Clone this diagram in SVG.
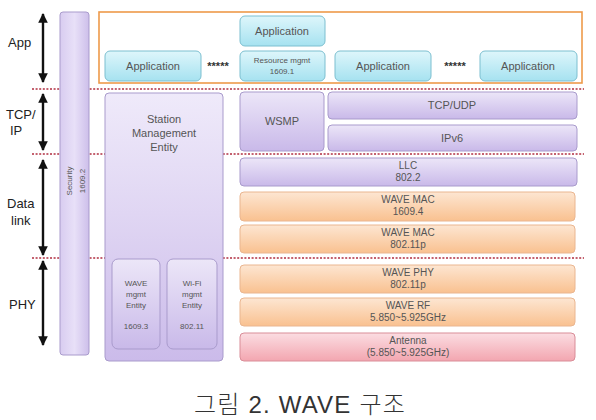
<svg xmlns="http://www.w3.org/2000/svg" width="596" height="420" viewBox="0 0 596 420">
  <defs>
    <linearGradient id="gPurple" x1="0" y1="0" x2="0" y2="1">
      <stop offset="0" stop-color="#ece6f8"/>
      <stop offset="1" stop-color="#c9b9e9"/>
    </linearGradient>
    <linearGradient id="gPurpleTall" x1="0" y1="0" x2="0" y2="1">
      <stop offset="0" stop-color="#efeafa"/>
      <stop offset="0.45" stop-color="#e0d6f3"/>
      <stop offset="1" stop-color="#cbbbea"/>
    </linearGradient>
    <linearGradient id="gSec" x1="0" y1="0" x2="1" y2="0">
      <stop offset="0" stop-color="#d8ccf0"/>
      <stop offset="0.5" stop-color="#e8e0f8"/>
      <stop offset="1" stop-color="#cdbfea"/>
    </linearGradient>
    <linearGradient id="gCyan" x1="0" y1="0" x2="0" y2="1">
      <stop offset="0" stop-color="#def6fb"/>
      <stop offset="1" stop-color="#a6e2f0"/>
    </linearGradient>
    <linearGradient id="gOrange" x1="0" y1="0" x2="0" y2="1">
      <stop offset="0" stop-color="#fde6d2"/>
      <stop offset="1" stop-color="#f9c190"/>
    </linearGradient>
    <linearGradient id="gPink" x1="0" y1="0" x2="0" y2="1">
      <stop offset="0" stop-color="#fbdde2"/>
      <stop offset="1" stop-color="#f3a6b0"/>
    </linearGradient>
    <marker id="head" viewBox="0 0 10 10" refX="9" refY="5" markerWidth="4" markerHeight="4" orient="auto-start-reverse">
      <path d="M0,0 L10,5 L0,10 z" fill="#111"/>
    </marker>
  </defs>
  <style>
    .lbl { font-family: "Liberation Sans", Arial, sans-serif; font-size: 13px; fill: #222; }
    .t { font-family: "Liberation Sans", Arial, sans-serif; font-size: 11px; fill: #555; text-anchor: middle; }
    .tl { font-family: "Liberation Sans", Arial, sans-serif; font-size: 10px; fill: #555; text-anchor: middle; }
    .ts { font-family: "Liberation Sans", Arial, sans-serif; font-size: 8px; fill: #555; text-anchor: middle; }
    .pur { fill: url(#gPurple); stroke: #a99bcc; stroke-width: 1; }
    .cyan { fill: url(#gCyan); stroke: #7cbfd0; stroke-width: 1; }
    .org { fill: url(#gOrange); stroke: #eab690; stroke-width: 1; }
    .pink { fill: url(#gPink); stroke: #d98d98; stroke-width: 1; }
    .dots { stroke: #c4616f; stroke-width: 2.2; stroke-dasharray: 2 1.6; fill: none; }
    .arr { stroke: #111; stroke-width: 2.4; fill: none; marker-start: url(#head); marker-end: url(#head); }
    .stars { font-family: "Liberation Sans", Arial, sans-serif; font-size: 11px; fill: #333; font-weight: bold; text-anchor: middle; }
  </style>

  <rect width="596" height="420" fill="#ffffff"/>

  <!-- layer separators -->
  <g id="separators">
    <line class="dots" x1="32" y1="89" x2="584" y2="89"/>
    <line class="dots" x1="32" y1="154" x2="584" y2="154"/>
    <line class="dots" x1="32" y1="258" x2="584" y2="258"/>
  </g>

  <!-- layer labels and extents -->
  <g id="layer-labels">
    <text class="lbl" x="8" y="47">App</text>
    <text class="lbl" x="6" y="119">TCP/</text>
    <text class="lbl" x="10" y="135">IP</text>
    <text class="lbl" x="7" y="208">Data</text>
    <text class="lbl" x="11" y="225">link</text>
    <text class="lbl" x="9" y="309">PHY</text>
  </g>
  <g id="connectors">
    <line class="arr" x1="43" y1="14" x2="43" y2="82"/>
    <line class="arr" x1="43" y1="94" x2="43" y2="150"/>
    <line class="arr" x1="43" y1="160" x2="43" y2="255"/>
    <line class="arr" x1="43" y1="261" x2="43" y2="345"/>
  </g>

  <!-- security column -->
  <g id="security">
    <rect x="60" y="12" width="29" height="343" rx="3" fill="url(#gSec)" stroke="#a99bcc"/>
    <text class="ts" font-size="10" transform="translate(72,181) rotate(-90)">Security</text>
    <text class="ts" font-size="10" transform="translate(85,181) rotate(-90)">1609.2</text>
  </g>

  <!-- application area -->
  <g id="app-area">
    <rect x="99" y="12" width="483" height="71" fill="none" stroke="#ee9a4a" stroke-width="1.6"/>
  </g>
  <g id="app1">
    <rect class="cyan" x="105" y="51" width="96" height="30" rx="5"/>
    <text class="t" x="153" y="70">Application</text>
  </g>
  <text class="stars" x="218" y="70">*****</text>
  <g id="app-top">
    <rect class="cyan" x="240" y="16" width="85" height="30" rx="5"/>
    <text class="t" x="282" y="35">Application</text>
  </g>
  <g id="resource-mgmt">
    <rect class="cyan" x="240" y="51" width="85" height="30" rx="5"/>
    <text class="ts" font-size="9" x="282" y="63">Resource mgmt</text>
    <text class="ts" font-size="9" x="282" y="74">1609.1</text>
  </g>
  <g id="app3">
    <rect class="cyan" x="335" y="51" width="96" height="30" rx="5"/>
    <text class="t" x="383" y="70">Application</text>
  </g>
  <text class="stars" x="455" y="70">*****</text>
  <g id="app4">
    <rect class="cyan" x="480" y="51" width="97" height="30" rx="5"/>
    <text class="t" x="528" y="70">Application</text>
  </g>

  <!-- station management entity -->
  <g id="sme">
    <rect x="105" y="93" width="118" height="268" rx="4" fill="url(#gPurpleTall)" stroke="#a99bcc"/>
    <text class="t" font-size="11.5" x="164" y="123">Station</text>
    <text class="t" font-size="11.5" x="164" y="137">Management</text>
    <text class="t" font-size="11.5" x="164" y="151">Entity</text>
  </g>
  <g id="wave-mgmt">
    <rect class="pur" x="112" y="259" width="48" height="90" rx="6"/>
    <text class="ts" x="136" y="286">WAVE</text>
    <text class="ts" x="136" y="297">mgmt</text>
    <text class="ts" x="136" y="308">Entity</text>
    <text class="ts" x="136" y="329">1609.3</text>
  </g>
  <g id="wifi-mgmt">
    <rect class="pur" x="167" y="259" width="50" height="90" rx="6"/>
    <text class="ts" x="192" y="286">Wi-Fi</text>
    <text class="ts" x="192" y="297">mgmt</text>
    <text class="ts" x="192" y="308">Entity</text>
    <text class="ts" x="192" y="329">802.11</text>
  </g>

  <!-- protocol stack -->
  <g id="wsmp">
    <rect class="pur" x="240" y="92" width="84" height="59" rx="4"/>
    <text class="t" x="282" y="125">WSMP</text>
  </g>
  <g id="tcp-udp">
    <rect class="pur" x="328" y="92" width="249" height="27" rx="4"/>
    <text class="t" x="452" y="109">TCP/UDP</text>
  </g>
  <g id="ipv6">
    <rect class="pur" x="328" y="125" width="249" height="26" rx="4"/>
    <text class="t" x="452" y="142">IPv6</text>
  </g>
  <g id="llc">
    <rect class="pur" x="240" y="158" width="337" height="28" rx="4"/>
    <text class="tl" x="408" y="169">LLC</text>
    <text class="tl" x="408" y="181">802.2</text>
  </g>
  <g id="wave-mac-1609">
    <rect class="org" x="240" y="192" width="335" height="29" rx="4"/>
    <text class="tl" x="408" y="203">WAVE MAC</text>
    <text class="tl" x="408" y="215">1609.4</text>
  </g>
  <g id="wave-mac-80211p">
    <rect class="org" x="240" y="225" width="335" height="28" rx="4"/>
    <text class="tl" x="408" y="236">WAVE MAC</text>
    <text class="tl" x="408" y="248">802.11p</text>
  </g>
  <g id="wave-phy">
    <rect class="org" x="240" y="265" width="335" height="28" rx="4"/>
    <text class="tl" x="408" y="276">WAVE PHY</text>
    <text class="tl" x="408" y="288">802.11p</text>
  </g>
  <g id="wave-rf">
    <rect class="org" x="240" y="298" width="335" height="28" rx="4"/>
    <text class="tl" x="408" y="309">WAVE RF</text>
    <text class="tl" x="408" y="321">5.850~5.925GHz</text>
  </g>
  <g id="antenna">
    <rect class="pink" x="240" y="333" width="335" height="28" rx="4"/>
    <text class="tl" x="408" y="344">Antenna</text>
    <text class="tl" x="408" y="356">(5.850~5.925GHz)</text>
  </g>

  <!-- caption -->
  <text x="300" y="413" text-anchor="middle" font-family="'Liberation Sans', 'Noto Sans CJK KR', sans-serif" font-weight="300" font-size="24" letter-spacing="1.2" fill="#333">그림 2. WAVE 구조</text>
</svg>
